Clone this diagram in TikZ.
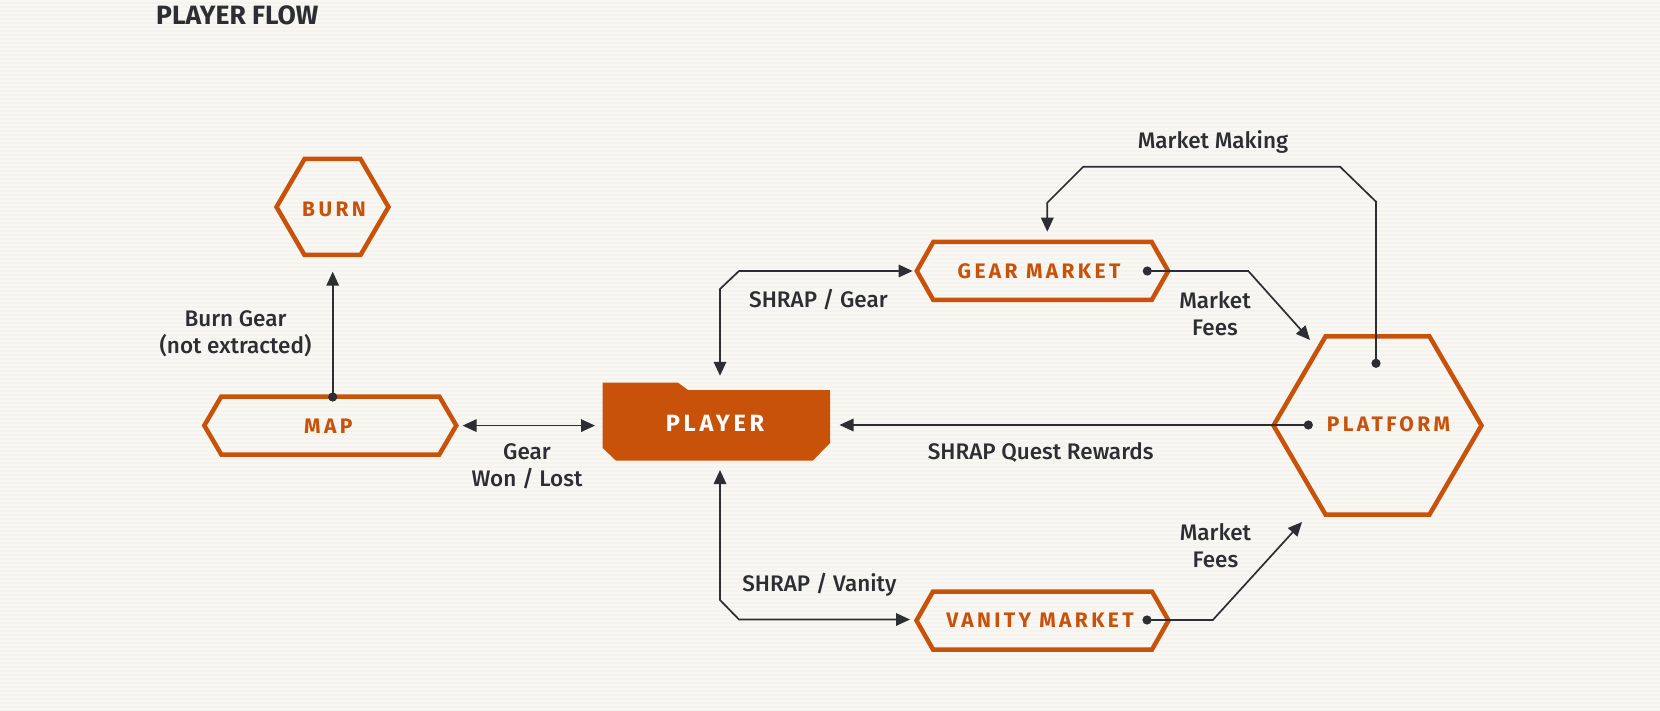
\documentclass[tikz,border=0pt]{standalone}
\usepackage{fontspec}
\setmainfont{Fira Sans}[UprightFont=* Medium,BoldFont=* Bold]
\newfontfamily\boxfont{Fira Sans}[UprightFont=* Bold,LetterSpace=16]
\usetikzlibrary{calc,arrows.meta}
\definecolor{org}{HTML}{C9520B}
\definecolor{ink}{HTML}{2D2E33}
\definecolor{bgmid}{HTML}{F5F3ED}
\definecolor{bgedge}{HTML}{DAD9D5}
\pgfdeclarehorizontalshading{bgshade}{100bp}{color(0bp)=(bgedge); color(22bp)=(bgmid); color(80bp)=(bgmid); color(100bp)=(bgedge)}
\newcommand\hexshape[4]{\draw[hexline] ($(#1)+(-#2,0)$) -- ($(#1)+(-#2+#4,-#3)$) -- ($(#1)+(#2-#4,-#3)$) -- ($(#1)+(#2,0)$) -- ($(#1)+(#2-#4,#3)$) -- ($(#1)+(-#2+#4,#3)$) -- cycle;}
\tikzset{
  hexline/.style={draw=org,line width=4.5pt,line join=miter},
  boxtext/.style={text=org,font=\boxfont\fontsize{21}{23}\selectfont,inner sep=0pt},
  lbl/.style={text=ink,font=\fontsize{22.5}{27}\selectfont,inner sep=0pt,align=center},
  conn/.style={draw=ink,line width=1.7pt},
  >={Triangle[length=14pt,width=12.5pt]},
  dotc/.style={fill=ink},
  stripe/.style={draw=white,opacity=0.35,line width=1.4pt}
}
\begin{document}
\begin{tikzpicture}[x=1pt,y=-1pt]
\useasboundingbox (0,0) rectangle (1660,711);
\shade[shading=bgshade] (0,0) rectangle (1660,711);
\foreach \yy in {1,5,...,711} \draw[stripe] (0,\yy) -- (1660,\yy);
% title
\node[anchor=west,text=ink,font=\bfseries\fontsize{26.5}{28}\selectfont,inner sep=0pt] (title) at (156,15) {PLAYER FLOW};
% hexagon centres
\coordinate (burnc) at (332.5,207);
\coordinate (mapc) at (330.3,425.5);
\coordinate (gearc) at (1042.5,271);
\coordinate (vanc) at (1042.5,620.5);
\coordinate (platc) at (1377.5,425.5);
\hexshape{burnc}{56}{48}{28}
\hexshape{mapc}{126}{29}{17}
\hexshape{gearc}{125.7}{29}{16.5}
\hexshape{vanc}{126}{29}{16.5}
\hexshape{platc}{104}{89}{52}
% player
\fill[org] (602.7,382.7) -- (678,382.7) -- (688,390) -- (830,390) -- (830,443) -- (812.7,460.7) -- (616,460.7) -- (602.7,448) -- cycle;
% texts
\node[boxtext] (burn) at (334,209) {BURN};
\node[boxtext] (map) at (328.3,426) {MAP};
\node[boxtext] (gear) at (1039,271) {GEAR MARKET};
\node[boxtext] (van) at (1040,620.5) {VANITY MARKET};
\node[boxtext] (plat) at (1388.5,424) {PLATFORM};
\node[boxtext,text=white,font=\boxfont\fontsize{23.5}{25}\selectfont] (player) at (715,423) {PLAYER};
% connector points
\coordinate (mapdot) at (332.7,397);
\coordinate (burnin) at (332.7,271.7);
\coordinate (mapout) at (462.6,425.6);
\coordinate (plyl) at (595,425.6);
\coordinate (plyr) at (839.5,425);
\coordinate (platdotl) at (1308.3,425);
\coordinate (platdott) at (1376,363.3);
\coordinate (plyt) at (720,375.8);
\coordinate (plyb) at (720,470);
\coordinate (gearin) at (912.6,271);
\coordinate (vanin) at (910,619.5);
\coordinate (geardot) at (1147.3,271);
\coordinate (vandot) at (1147,620);
\coordinate (platinT) at (1310,340);
\coordinate (platinB) at (1302,522);
\coordinate (gearinT) at (1047.3,231.7);
% connectors
\draw[conn,->] (mapdot) -- (burnin);
\draw[conn,<->] (mapout) -- (plyl);
\draw[conn,->] (platdotl) -- (plyr);
\draw[conn,<->] (plyt) -- (720,289) -- (739,271) -- (gearin);
\draw[conn,<->] (plyb) -- (720,600) -- (739,619.5) -- (vanin);
\draw[conn,->] (geardot) -- (1248.3,271) -- (platinT);
\draw[conn,->] (vandot) -- (1212.8,620) -- (platinB);
\draw[conn,->] (platdott) -- (1376,201.7) -- (1340,166.7) -- (1083.3,166.7) -- (1047.3,202.7) -- (gearinT);
\foreach \p in {mapdot,platdotl,platdott,geardot,vandot} \fill[dotc] (\p) circle[radius=4.6pt];
% labels
\node[lbl] (lburn) at (235.5,334) {Burn Gear\\(not extracted)};
\node[lbl] (lgear) at (527,466) {Gear\\Won / Lost};
\node[lbl] (lquest) at (1040.7,452) {SHRAP Quest Rewards};
\node[lbl] (lsg) at (818.4,299.6) {SHRAP / Gear};
\node[lbl] (lsv) at (819.4,585) {SHRAP / Vanity};
\node[lbl] (lmm) at (1213,141.7) {Market Making};
\node[lbl] (lmf1) at (1215,314) {Market\\Fees};
\node[lbl] (lmf2) at (1215.4,546) {Market\\Fees};
\end{tikzpicture}
\end{document}
